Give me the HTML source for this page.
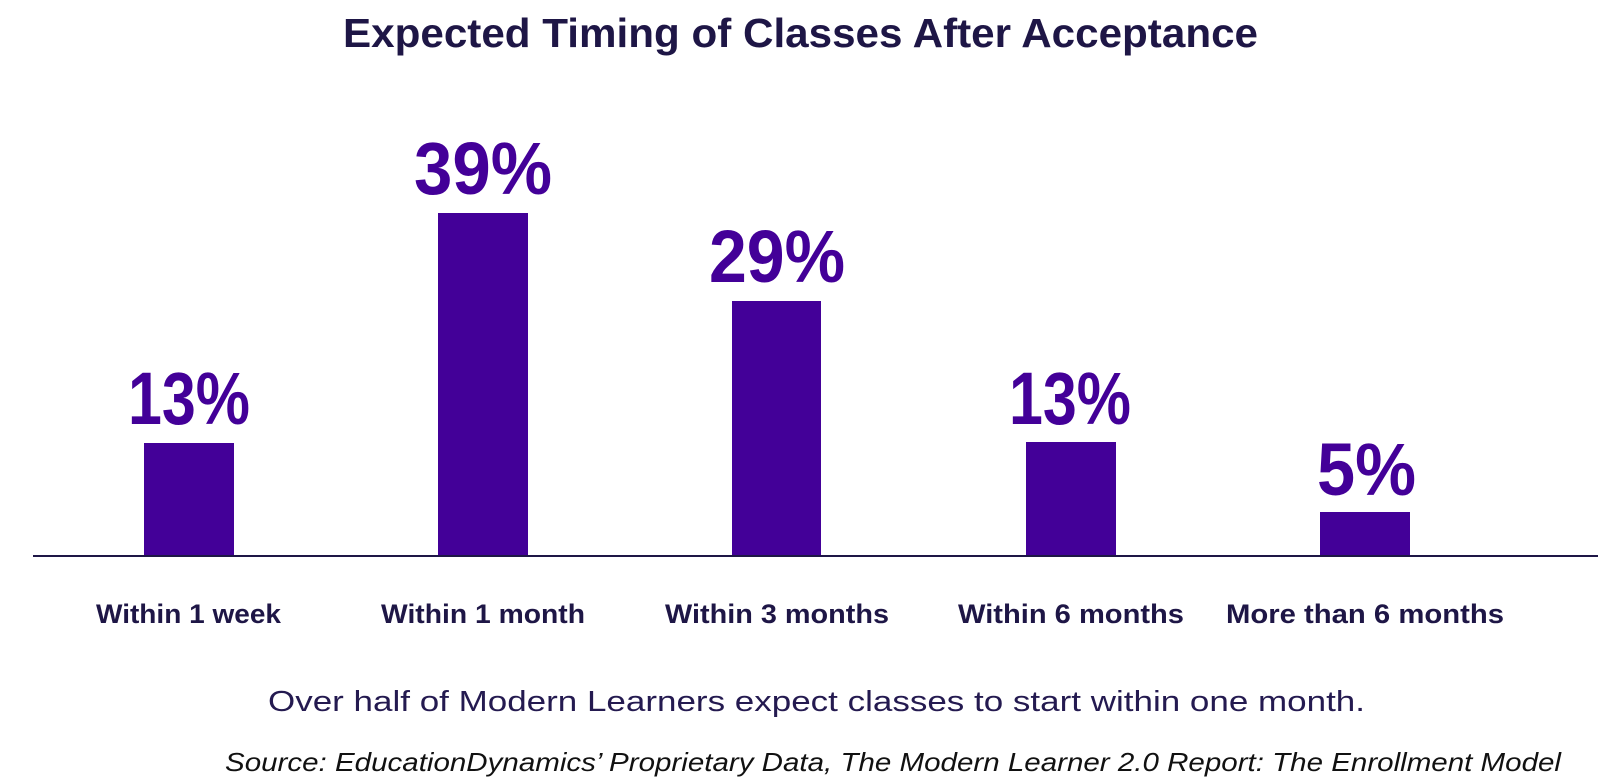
<!DOCTYPE html>
<html>
<head>
<meta charset="utf-8">
<style>
  html, body { margin: 0; padding: 0; background: #ffffff; }
  body { width: 1601px; height: 781px; overflow: hidden; }
  svg { display: block; }
  .pct { font-family: "Liberation Sans", sans-serif; font-weight: 700; font-size: 74px; fill: #430098; }
  .cat { font-family: "Liberation Sans", sans-serif; font-weight: 700; font-size: 27px; fill: #1e1646; }
</style>
</head>
<body>
<svg width="1601" height="781" viewBox="0 0 1601 781" xmlns="http://www.w3.org/2000/svg">
  <rect x="0" y="0" width="1601" height="781" fill="#ffffff"/>

  <!-- Title -->
  <text x="343" y="47" textLength="915" lengthAdjust="spacingAndGlyphs"
        font-family="Liberation Sans, sans-serif" font-weight="700" font-size="41" fill="#1e1646">Expected Timing of Classes After Acceptance</text>

  <!-- Bars -->
  <rect x="144" y="443" width="90" height="114" fill="#430098"/>
  <rect x="438" y="213" width="90" height="344" fill="#430098"/>
  <rect x="732" y="301" width="89" height="256" fill="#430098"/>
  <rect x="1026" y="442" width="90" height="115" fill="#430098"/>
  <rect x="1320" y="512" width="90" height="45" fill="#430098"/>

  <!-- Axis line -->
  <rect x="33" y="555" width="1565" height="2" fill="#1e1646"/>

  <!-- Value labels -->
  <text class="pct" x="128" y="424" textLength="122" lengthAdjust="spacingAndGlyphs">13%</text>
  <text class="pct" x="414" y="194" textLength="138" lengthAdjust="spacingAndGlyphs">39%</text>
  <text class="pct" x="709" y="282" textLength="136" lengthAdjust="spacingAndGlyphs">29%</text>
  <text class="pct" x="1009" y="424" textLength="122" lengthAdjust="spacingAndGlyphs">13%</text>
  <text class="pct" x="1317" y="495" textLength="99" lengthAdjust="spacingAndGlyphs">5%</text>

  <!-- Category labels -->
  <text class="cat" x="96" y="623" textLength="185" lengthAdjust="spacingAndGlyphs">Within 1 week</text>
  <text class="cat" x="381" y="623" textLength="204" lengthAdjust="spacingAndGlyphs">Within 1 month</text>
  <text class="cat" x="665" y="623" textLength="224" lengthAdjust="spacingAndGlyphs">Within 3 months</text>
  <text class="cat" x="958" y="623" textLength="226" lengthAdjust="spacingAndGlyphs">Within 6 months</text>
  <text class="cat" x="1226" y="623" textLength="278" lengthAdjust="spacingAndGlyphs">More than 6 months</text>

  <!-- Subtitle -->
  <text x="268" y="711" textLength="1097" lengthAdjust="spacingAndGlyphs"
        font-family="Liberation Sans, sans-serif" font-size="29" fill="#241a50">Over half of Modern Learners expect classes to start within one month.</text>

  <!-- Source -->
  <text x="225" y="771" textLength="1336" lengthAdjust="spacingAndGlyphs"
        font-family="Liberation Sans, sans-serif" font-style="italic" font-size="26" fill="#111111">Source: EducationDynamics’ Proprietary Data, The Modern Learner 2.0 Report: The Enrollment Model</text>
</svg>
</body>
</html>
